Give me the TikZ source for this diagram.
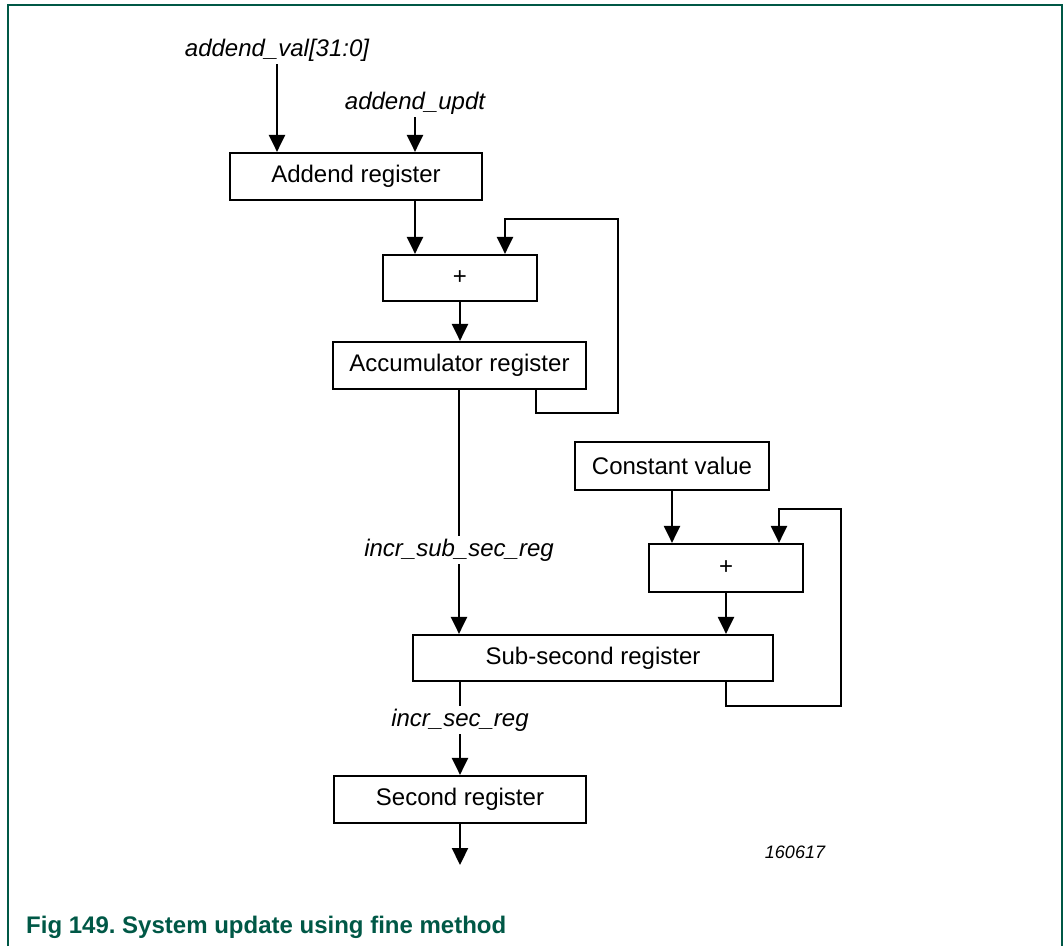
\documentclass[tikz,border=0pt]{standalone}
\usepackage{fontspec}
\setmainfont{Liberation Sans}
\usetikzlibrary{arrows.meta,calc}
\definecolor{nxpgreen}{RGB}{0,88,70}
\frenchspacing
\tikzset{
  reg/.style={draw, line width=2.2pt, rectangle, inner sep=0pt, font=\fontsize{24}{28}\selectfont},
  sig/.style={inner sep=3pt, font=\fontsize{24}{28}\selectfont\itshape},
  arr/.style={line width=2.2pt, -{Triangle[length=17pt,width=16pt]}},
  wire/.style={line width=2.2pt},
}
\begin{document}
\begin{tikzpicture}[x=1pt,y=-1pt]
\useasboundingbox (0,0) rectangle (1063,946);
% frame
\draw[nxpgreen, line width=2pt] (8,946) -- (8,5) -- (1062,5) -- (1062,946);
% registers
\node[reg, minimum width=252pt, minimum height=47pt] (addend) at (356,176.5) {Addend register};
\node[reg, minimum width=154pt, minimum height=46pt] (plus1) at (460,278) {+};
\node[reg, minimum width=253pt, minimum height=47pt] (accum) at (459.5,365.5) {Accumulator register};
\node[reg, minimum width=194pt, minimum height=48pt] (const) at (672,466) {Constant value};
\node[reg, minimum width=154pt, minimum height=48pt] (plus2) at (726,568) {+};
\node[reg, minimum width=360pt, minimum height=46pt] (subsec) at (593,658) {Sub-second register};
\node[reg, minimum width=252pt, minimum height=47pt] (second) at (460,799.5) {Second register};
% signal labels
\node[sig] (lval) at (277,50) {addend\_val[31:0]};
\node[sig] (lupdt) at (415,103) {addend\_updt};
\node[sig] (lsub) at (459,550) {incr\_sub\_sec\_reg};
\node[sig] (lsec) at (460,720) {incr\_sec\_reg};
\node[font=\fontsize{18}{22}\selectfont\itshape] (tag) at (795,852) {160617};
\node[anchor=west, inner sep=0pt, text=nxpgreen, font=\fontsize{24}{28}\selectfont\bfseries] (cap) at (26,927) {Fig 149. System update using fine method};
\coordinate (out) at (460,865);
% connectors
\draw[arr] (lval.south) -- (lval.south |- addend.north);
\draw[arr] (lupdt.south) -- (lupdt.south |- addend.north);
\draw[arr] (addend.south -| lupdt.south) -- (plus1.north -| lupdt.south);
\draw[arr] (plus1.south) -- (plus1.south |- accum.north);
\draw[arr] ([xshift=76.5pt]accum.south) -- ++(0,23) -| (618,219) -| ([xshift=45pt]plus1.north);
\draw[wire] (accum.south -| lsub.north) -- (lsub.north);
\draw[arr] (lsub.south) -- (lsub.south |- subsec.north);
\draw[arr] (const.south) -- (const.south |- plus2.north);
\draw[arr] (plus2.south) -- (plus2.south |- subsec.north);
\draw[arr] ([xshift=133pt]subsec.south) -- ++(0,24) -| (841,509) -| ([xshift=53pt]plus2.north);
\draw[wire] (subsec.south -| lsec.north) -- (lsec.north);
\draw[arr] (lsec.south) -- (lsec.south |- second.north);
\draw[arr] (second.south) -- (out);
\end{tikzpicture}
\end{document}
